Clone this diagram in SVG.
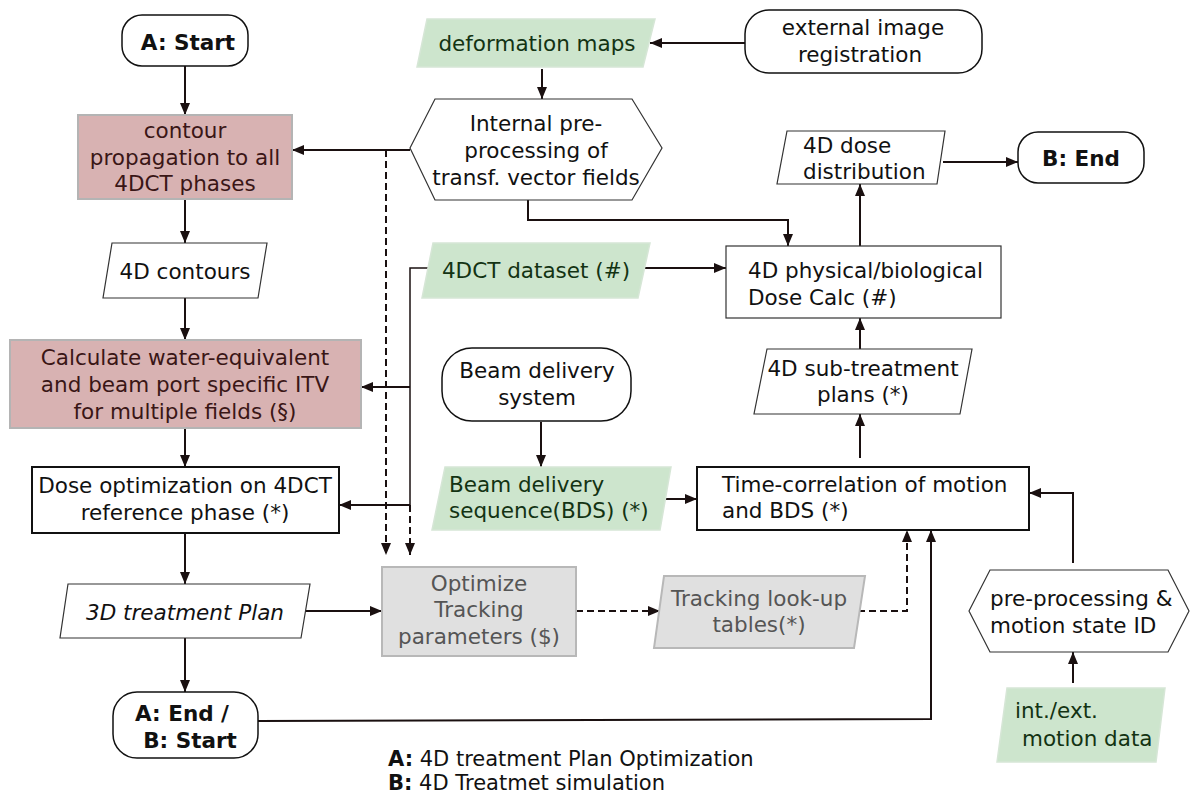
<svg xmlns="http://www.w3.org/2000/svg" width="1190" height="795" viewBox="0 0 1190 795">
  <defs>
    <marker id="arrow" viewBox="0 0 12 10" markerWidth="12" markerHeight="10" refX="12" refY="5" orient="auto" markerUnits="userSpaceOnUse">
      <path d="M0,0 L12,5 L0,10 z" fill="#1a1010"/>
    </marker>
    <style>
      text { font-family: "DejaVu Sans", Verdana, sans-serif; font-size: 21.5px; fill: #111; }
      .c { text-anchor: middle; }
      .b { font-weight: bold; }
      .term { fill: #fff; stroke: #111; stroke-width: 1.5; }
      .proc { fill: #fff; stroke: #111; stroke-width: 2; }
      .thin { fill: #fff; stroke: #333; stroke-width: 1.2; }
      .pink { fill: #d8b2b2; stroke: #b4b4b4; stroke-width: 2; }
      .green { fill: #cde5cd; stroke: #d6e6d6; stroke-width: 1.5; }
      .grey { fill: #e0e0e0; stroke: #b8b8b8; stroke-width: 2; }
      .tp { fill: #3a1616; }
      .tg { fill: #133313; }
      .tq { fill: #555; }
      .ln { fill: none; stroke: #1a1010; stroke-width: 2; }
      .dash { stroke-dasharray: 7 4; }
      .legend { font-size: 21px; }
    </style>
  </defs>

  <!-- connectors -->
  <g id="connectors">
    <path class="ln" d="M185,66 L185,115" marker-end="url(#arrow)"/>
    <path class="ln" d="M185,199 L185,243" marker-end="url(#arrow)"/>
    <path class="ln" d="M185,298 L185,340" marker-end="url(#arrow)"/>
    <path class="ln" d="M185,428 L185,467" marker-end="url(#arrow)"/>
    <path class="ln" d="M185,533 L185,584" marker-end="url(#arrow)"/>
    <path class="ln" d="M185,638 L185,692" marker-end="url(#arrow)"/>
    <!-- vector fields to contour propagation -->
    <path class="ln" d="M410,150 L292,150" marker-end="url(#arrow)"/>
    <path class="ln dash" d="M386,150 L386,555" marker-end="url(#arrow)"/>
    <!-- 4DCT dataset branch -->
    <path class="ln" style="stroke-width:1.5" d="M432,268 L410,268 L410,505"/>
    <path class="ln" d="M410,387 L361,387" marker-end="url(#arrow)"/>
    <path class="ln" d="M410,505 L339,505" marker-end="url(#arrow)"/>
    <path class="ln dash" d="M410,505 L410,555" marker-end="url(#arrow)"/>
    <!-- registration chain -->
    <path class="ln" d="M745,43 L650,43" marker-end="url(#arrow)"/>
    <path class="ln" d="M542,69 L542,99" marker-end="url(#arrow)"/>
    <path class="ln" d="M528,200 L528,220 L788,220 L788,246" marker-end="url(#arrow)"/>
    <path class="ln" d="M645,268 L726,268" marker-end="url(#arrow)"/>
    <path class="ln" d="M860,246 L860,184" marker-end="url(#arrow)"/>
    <path class="ln" d="M943,162 L1018,162" marker-end="url(#arrow)"/>
    <path class="ln" d="M860,349 L860,318" marker-end="url(#arrow)"/>
    <path class="ln" d="M860,458 L860,414" marker-end="url(#arrow)"/>
    <!-- beam delivery -->
    <path class="ln" d="M541,422 L541,467" marker-end="url(#arrow)"/>
    <path class="ln" d="M665,499 L697,499" marker-end="url(#arrow)"/>
    <!-- tracking -->
    <path class="ln" d="M305,611 L382,611" marker-end="url(#arrow)"/>
    <path class="ln dash" d="M576,611 L660,611" marker-end="url(#arrow)"/>
    <path class="ln dash" d="M858,611 L907,611 L907,530" marker-end="url(#arrow)"/>
    <path class="ln" d="M258,721 L931,719 L931,530" marker-end="url(#arrow)"/>
    <!-- motion data -->
    <path class="ln" d="M1073,683 L1073,652" marker-end="url(#arrow)"/>
    <path class="ln" d="M1073,563 L1073,493 L1029,493" marker-end="url(#arrow)"/>
  </g>

  <g id="a-start">
    <rect class="term" x="122" y="15" width="126" height="51" rx="20"/>
    <text class="c b" x="188" y="50">A: Start</text>
  </g>

  <g id="contour-propagation">
    <rect class="pink" x="78" y="115" width="214" height="84"/>
    <text class="c tp" x="185" y="138">contour</text>
    <text class="c tp" x="185" y="165">propagation to all</text>
    <text class="c tp" x="185" y="191">4DCT phases</text>
  </g>

  <g id="contours-4d">
    <polygon class="thin" points="112,243 267,243 258,298 103,298"/>
    <text class="c" x="185" y="279">4D contours</text>
  </g>

  <g id="itv-calc">
    <rect class="pink" x="10" y="340" width="351" height="88"/>
    <text class="c tp" x="185" y="365">Calculate water-equivalent</text>
    <text class="c tp" x="185" y="392">and beam port specific ITV</text>
    <text class="c tp" x="185" y="419">for multiple fields (§)</text>
  </g>

  <g id="dose-optimization">
    <rect class="proc" x="32" y="467" width="307" height="66"/>
    <text class="c" x="185" y="493">Dose optimization on 4DCT</text>
    <text class="c" x="185" y="520">reference phase (*)</text>
  </g>

  <g id="plan-3d">
    <polygon class="thin" points="68,584 310,584 301,638 60,638"/>
    <text class="c" x="185" y="620" font-style="italic">3D treatment Plan</text>
  </g>

  <g id="a-end-b-start">
    <rect class="term" x="113" y="692" width="145" height="66" rx="24"/>
    <text class="c b" x="182" y="721">A: End /</text>
    <text class="c b" x="190" y="748">B: Start</text>
  </g>

  <g id="deformation-maps">
    <polygon class="green" points="427,19 655,19 643,67 417,67"/>
    <text class="c tg" x="537" y="51">deformation maps</text>
  </g>

  <g id="external-registration">
    <rect class="term" x="745" y="10" width="237" height="63" rx="24"/>
    <text class="c" x="863" y="35">external image</text>
    <text class="c" x="860" y="62">registration</text>
  </g>

  <g id="vector-field-preprocessing">
    <polygon class="thin" points="410,148 435,99 632,99 662,148 632,200 435,200"/>
    <text class="c" x="536" y="131">Internal pre-</text>
    <text class="c" x="536" y="158">processing of</text>
    <text class="c" x="536" y="185">transf. vector fields</text>
  </g>

  <g id="dose-distribution-4d">
    <polygon class="thin" points="787,131 945,131 937,184 777,184"/>
    <text x="803" y="153">4D dose</text>
    <text x="803" y="179">distribution</text>
  </g>

  <g id="b-end">
    <rect class="term" x="1018" y="132" width="126" height="51" rx="20"/>
    <text class="c b" x="1081" y="166">B: End</text>
  </g>

  <g id="dataset-4dct">
    <polygon class="green" points="433,243 650,243 638,298 422,298"/>
    <text class="c tg" x="536" y="278">4DCT dataset (#)</text>
  </g>

  <g id="dose-calc-4d">
    <rect class="thin" x="726" y="246" width="275" height="72"/>
    <text x="748" y="278">4D physical/biological</text>
    <text x="748" y="305">Dose Calc (#)</text>
  </g>

  <g id="sub-treatment-plans">
    <polygon class="thin" points="767,349 972,349 960,414 754,414"/>
    <text class="c" x="863" y="376">4D sub-treatment</text>
    <text class="c" x="863" y="402">plans (*)</text>
  </g>

  <g id="beam-delivery-system">
    <rect class="term" x="442" y="348" width="189" height="73" rx="30"/>
    <text class="c" x="537" y="378">Beam delivery</text>
    <text class="c" x="537" y="405">system</text>
  </g>

  <g id="beam-delivery-sequence">
    <polygon class="green" points="445,467 671,467 660,530 432,530"/>
    <text class="tg" x="449" y="492">Beam delivery</text>
    <text class="tg" x="449" y="518">sequence(BDS) (*)</text>
  </g>

  <g id="time-correlation">
    <rect class="proc" x="697" y="467" width="332" height="63"/>
    <text x="722" y="492">Time-correlation of motion</text>
    <text x="722" y="518">and BDS (*)</text>
  </g>

  <g id="optimize-tracking">
    <rect class="grey" x="382" y="567" width="194" height="89"/>
    <text class="c tq" x="479" y="591">Optimize</text>
    <text class="c tq" x="479" y="617">Tracking</text>
    <text class="c tq" x="479" y="644">parameters ($)</text>
  </g>

  <g id="tracking-tables">
    <polygon class="grey" points="664,576 865,576 854,648 654,648"/>
    <text class="c tq" x="759" y="606">Tracking look-up</text>
    <text class="c tq" x="759" y="632">tables(*)</text>
  </g>

  <g id="motion-preprocessing">
    <polygon class="thin" points="969,611 990,570 1168,570 1189,611 1168,652 990,652"/>
    <text x="990" y="606">pre-processing &amp;</text>
    <text x="990" y="633">motion state ID</text>
  </g>

  <g id="motion-data">
    <polygon class="green" points="1007,688 1165,688 1156,762 997,762"/>
    <text class="tg" x="1015" y="718">int./ext.</text>
    <text class="tg" x="1022" y="746">motion data</text>
  </g>

  <g id="legend">
    <text class="legend" x="388" y="766"><tspan class="b">A:</tspan> 4D treatment Plan Optimization</text>
    <text class="legend" x="388" y="790"><tspan class="b">B:</tspan> 4D Treatmet simulation</text>
  </g>
</svg>
